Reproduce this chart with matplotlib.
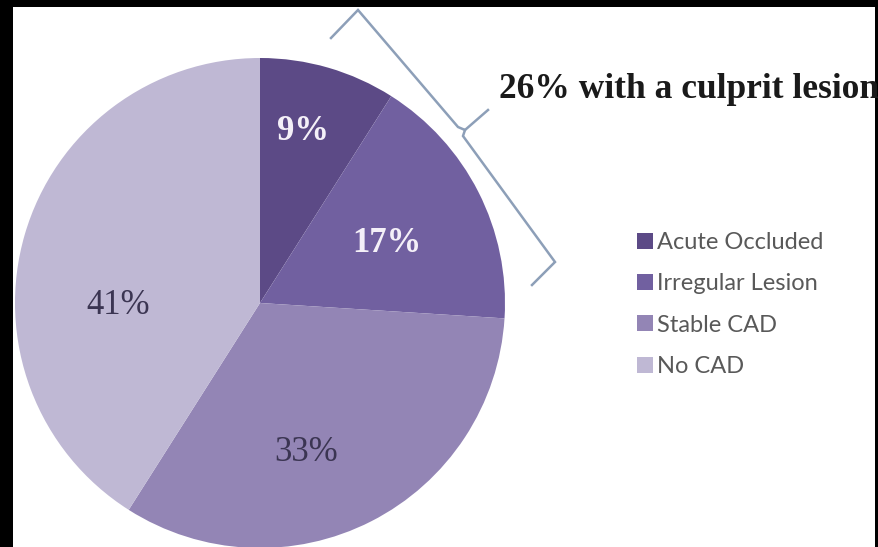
import numpy as np
import matplotlib.pyplot as plt
from matplotlib.lines import Line2D
from matplotlib.patches import Rectangle

# share of patients per finding
categories = ["Acute Occluded", "Irregular Lesion", "Stable CAD", "No CAD"]
shares = [9, 17, 33, 41]
colors = ["#5c4a86", "#7160a0", "#9385b5", "#bfb8d4"]
label_colors = ["#f4f0f8", "#f4f0f8", "#3b3552", "#3b3552"]
label_weights = ["bold", "bold", "normal", "normal"]
# label placement inside each wedge: (radius fraction, angle in degrees)
label_pos = [(0.72, 76), (0.57, 25), (0.64, -73), (0.58, 181)]
culprit_text = "26% with a culprit lesion"

W, H = 879, 547
fig = plt.figure(figsize=(W / 100, H / 100), dpi=100)
fig.patch.set_facecolor("black")
fig.add_artist(Rectangle((13 / W, 0), (875 - 13) / W, (H - 7) / H,
                         transform=fig.transFigure, facecolor="white",
                         edgecolor="none", zorder=0))

# pie: centre at (260, 303) px, radius 245 px
cx, cy, r = 260, 303, 245
ax = fig.add_axes([(cx - r) / W, (H - cy - r) / H, 2 * r / W, 2 * r / H])
ax.set_facecolor("none")
wedges, _ = ax.pie(shares, colors=colors, startangle=90, counterclock=False,
                   radius=1, wedgeprops=dict(linewidth=0))
ax.set_xlim(-1, 1)
ax.set_ylim(-1, 1)
ax.axis("off")

for v, c, w, (rf, ang) in zip(shares, label_colors, label_weights, label_pos):
    t = np.deg2rad(ang)
    ax.text(rf * np.cos(t), rf * np.sin(t), f"{v}%", ha="center", va="center",
            fontsize=25, family="Liberation Serif", color=c, fontweight=w)

# curly brace around the first two wedges
def px(pts):
    pts = np.array(pts, dtype=float)
    return pts[:, 0] / W, 1 - pts[:, 1] / H

brace_col = "#8d9fb8"
for seg in ([(331, 38), (358, 10), (458, 127), (465, 130), (488, 110)],
            [(465, 130), (463, 136), (555, 262), (532, 285)]):
    xs, ys = px(seg)
    fig.add_artist(Line2D(xs, ys, transform=fig.transFigure, color=brace_col,
                          lw=1.8, solid_joinstyle="miter"))

fig.text(499 / W, 1 - 89 / H, culprit_text, fontsize=25.5, fontweight="bold",
         family="Liberation Serif", color="#1a1a1a", va="center", ha="left")

leg = fig.legend(wedges, categories, loc="upper left",
                 bbox_to_anchor=(637 / W, 1 - 232 / H), frameon=False,
                 prop=dict(family="Lato", size=17), handlelength=0.68,
                 handleheight=0.68, handletextpad=0.15, labelspacing=0.86,
                 borderpad=0, borderaxespad=0)
for t in leg.get_texts():
    t.set_color("#595959")

fig.savefig("out.png", dpi=100, facecolor=fig.get_facecolor())
